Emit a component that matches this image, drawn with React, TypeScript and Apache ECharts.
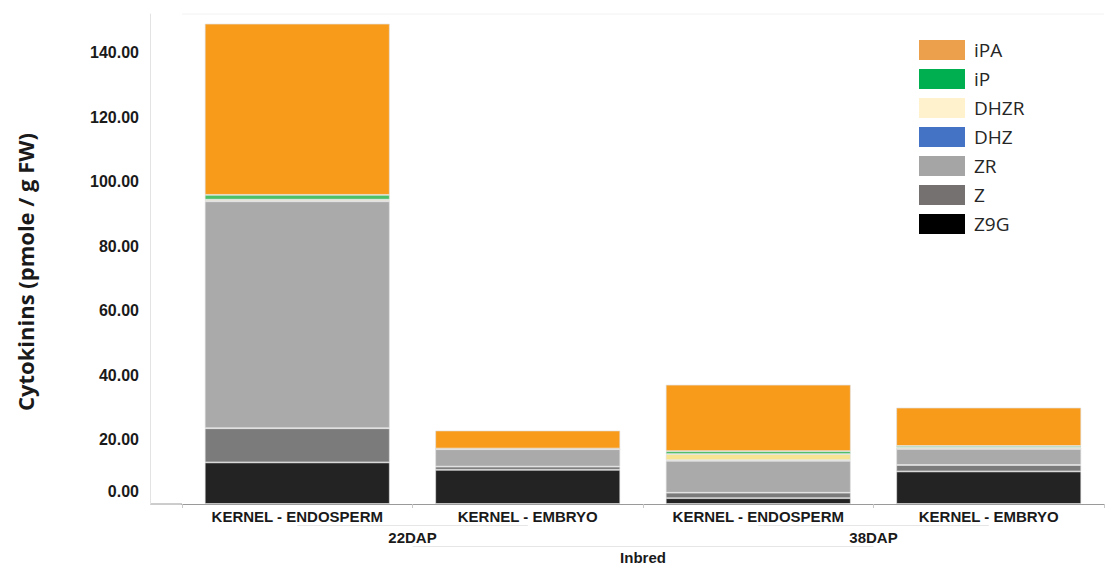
import React, { useEffect, useRef } from "react";
import * as echarts from "echarts";

const sampleLabels = ["KERNEL - ENDOSPERM", "KERNEL - EMBRYO", "KERNEL - ENDOSPERM", "KERNEL - EMBRYO"];
const stageLabels = ["22DAP", "38DAP"];
const groupLabels = ["Inbred"];

const z9g = [12.9, 10.6, 1.8, 10.1];
const z = [10.6, 1.0, 1.7, 2.0];
const zr = [70.4, 5.4, 9.9, 5.0];
const dhz = [0.1, 0, 0.2, 0];
const dhzr = [0.4, 0.1, 1.9, 0.4];
const ip = [1.5, 0.1, 0.9, 0.5];
const ipa = [53.1, 5.6, 20.6, 11.9];

const seriesNames = ["Z9G", "Z", "ZR", "DHZ", "DHZR", "iP", "iPA"];
const seriesValues = [z9g, z, zr, dhz, dhzr, ip, ipa];
const barColors = ["#232323", "#7b7b7b", "#aaaaaa", "#9dc8e6", "#f7e493", "#4dbf66", "#f99b1a"];
const legendOrder = ["iPA", "iP", "DHZR", "DHZ", "ZR", "Z", "Z9G"];
const legendColors = ["#eda04c", "#00b050", "#fff2cc", "#4472c4", "#a5a5a5", "#767171", "#000000"];

const yTitle = "Cytokinins (pmole / g FW)";
const ARIAL = '"Liberation Sans", Arial, sans-serif';

export default function App() {
  const ref = useRef<HTMLDivElement>(null);
  useEffect(() => {
    if (!ref.current) return;
    const chart = echarts.init(ref.current, undefined, { renderer: "svg" });
    const labelStyle = { fontSize: 15, fontWeight: "bold" as const, color: "#1a1a1a", fontFamily: ARIAL };
    chart.setOption({
      animation: false,
      grid: { left: 182, right: 8, top: 14, bottom: 59 },
      legend: {
        orient: "vertical",
        left: 914,
        top: 35,
        icon: "rect",
        itemWidth: 46,
        itemHeight: 20,
        itemGap: 9,
        selectedMode: false,
        textStyle: { fontFamily: '"Open Sans", sans-serif', fontSize: 19, color: "#262626", padding: [0, 0, 0, 4] },
        data: legendOrder.map((n, i) => ({ name: n, itemStyle: { color: legendColors[i], borderWidth: 0 } })),
      },
      yAxis: {
        type: "value",
        min: 0,
        max: 152,
        interval: 20,
        offset: 32,
        axisLine: { show: true, lineStyle: { color: "#e3e3e3" } },
        axisTick: { show: false },
        splitLine: { show: false },
        axisLabel: {
          showMaxLabel: false,
          margin: 11,
          fontSize: 16,
          fontWeight: "bold",
          color: "#1a1a1a",
          fontFamily: ARIAL,
          formatter: (v: number) => (v === 0 ? "{z|0.00}" : v.toFixed(2)),
          rich: { z: { padding: [0, 0, 26, 0], fontSize: 16, fontWeight: "bold", color: "#1a1a1a", fontFamily: ARIAL } },
        },
      },
      xAxis: [
        {
          type: "category",
          data: sampleLabels,
          axisLine: { lineStyle: { color: "#9a9a9a" } },
          axisTick: { show: true, length: 4, lineStyle: { color: "#c8c8c8" } },
          axisLabel: { ...labelStyle, margin: 5, interval: 0 },
        },
        {
          type: "category",
          data: stageLabels,
          position: "bottom",
          offset: 21,
          axisLine: { show: false },
          axisTick: { show: false },
          axisLabel: { ...labelStyle, margin: 5, interval: 0 },
        },
        {
          type: "category",
          data: groupLabels,
          position: "bottom",
          offset: 41,
          axisLine: { show: false },
          axisTick: { show: false },
          axisLabel: { ...labelStyle, margin: 5, interval: 0 },
        },
      ],
      series: seriesNames.map((n, i) => ({
        name: n,
        type: "bar",
        stack: "total",
        xAxisIndex: 0,
        barWidth: 185,
        data: seriesValues[i],
        itemStyle: { color: barColors[i], borderColor: "rgba(225,225,225,0.85)", borderWidth: 0.8 },
      })),
    });

    const px = (axis: number, idx: number) => chart.convertToPixel({ xAxisIndex: axis }, idx) as number;
    const y0 = chart.convertToPixel({ yAxisIndex: 0 }, 0) as number;
    const yTop = chart.convertToPixel({ yAxisIndex: 0 }, 152) as number;
    const faint = { stroke: "#e6e6e6", lineWidth: 1 };
    const graphics: any[] = [
      { type: "line", shape: { x1: 150, y1: y0, x2: 182, y2: y0 }, style: { stroke: "#9a9a9a", lineWidth: 1 } },
      { type: "line", shape: { x1: 182, y1: yTop, x2: 1104, y2: yTop }, style: { stroke: "#f2f2f2", lineWidth: 1 } },
      { type: "line", shape: { x1: px(0, 0), y1: y0 + 21.5, x2: px(0, 1), y2: y0 + 21.5 }, style: faint },
      { type: "line", shape: { x1: px(0, 2), y1: y0 + 21.5, x2: px(0, 3), y2: y0 + 21.5 }, style: faint },
      { type: "line", shape: { x1: px(1, 0), y1: y0 + 42.5, x2: px(1, 1), y2: y0 + 42.5 }, style: faint },
      {
        type: "text",
        x: 25,
        y: 272,
        rotation: Math.PI / 2,
        style: {
          text: yTitle,
          align: "center",
          verticalAlign: "middle",
          fontFamily: '"Open Sans", sans-serif',
          fontWeight: "bold",
          fontSize: 22,
          fill: "#1a1a1a",
        },
      },
    ];
    chart.setOption({ graphic: graphics });
    return () => chart.dispose();
  }, []);
  return <div ref={ref} style={{ position: "absolute", left: 0, top: 0, width: 1112, height: 565 }} />;
}
